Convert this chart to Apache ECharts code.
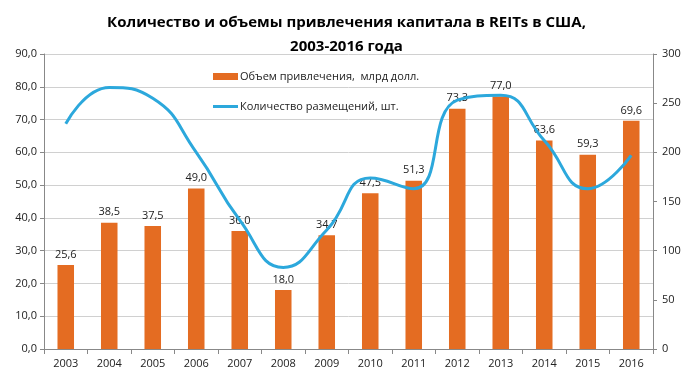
<!DOCTYPE html>
<html><head><meta charset="utf-8">
<script src="https://cdn.jsdelivr.net/npm/echarts@6/dist/echarts.min.js"></script>
<style>html,body{margin:0;padding:0;background:#fff}#c{width:693px;height:383px}</style>
</head><body><div id="c"></div>
<script>
const years = ['2003','2004','2005','2006','2007','2008','2009','2010','2011','2012','2013','2014','2015','2016'];
const volume = [25.6, 38.5, 37.5, 49.0, 36.0, 18.0, 34.7, 47.5, 51.3, 73.3, 77.0, 63.6, 59.3, 69.6];
const placements = [229, 266, 255, 200, 131, 83, 121, 174, 163, 253, 258, 212, 163, 197];
const volumeName = 'Объем привлечения,  млрд долл.';
const countName = 'Количество размещений, шт.';
const titleText = 'Количество и объемы привлечения капитала в REITs в США,\n2003-2016 года';

const font = '"Open Sans", sans-serif';
const fmt = v => v.toFixed(1).replace('.', ',');
const chart = echarts.init(document.getElementById('c'));
chart.setOption({
  animation: false,
  textStyle: {fontFamily: font},
  title: {
    text: titleText, left: 'center', top: 6,
    textStyle: {fontFamily: font, fontSize: 15, fontWeight: 'bold', color: '#000', lineHeight: 24}
  },
  legend: [
    {data: [volumeName], left: 208, top: 66, itemWidth: 25, itemHeight: 7, itemGap: 4, icon: 'rect',
     textStyle: {fontFamily: font, fontSize: 11, color: '#222', padding: [0,0,0,-3]}},
    {data: [countName], left: 208, top: 96, itemWidth: 25, itemHeight: 3, icon: 'rect',
     textStyle: {fontFamily: font, fontSize: 11, color: '#222', padding: [0,0,0,-3]}}
  ],
  grid: {left: 44, right: 40, top: 54, bottom: 34},
  xAxis: {
    type: 'category', data: years,
    axisLine: {lineStyle: {color: '#888'}},
    axisTick: {show: true, alignWithLabel: false, length: 5, lineStyle: {color: '#888'}},
    axisLabel: {fontSize: 11, color: '#222', margin: 9, fontFamily: font}
  },
  yAxis: [
    {type: 'value', min: 0, max: 90, interval: 10,
     axisLine: {show: true, lineStyle: {color: '#888'}},
     axisTick: {show: true, length: 4, lineStyle: {color: '#888'}},
     splitLine: {lineStyle: {color: '#d0d0d0'}},
     axisLabel: {formatter: v => fmt(v), fontSize: 11, color: '#222', margin: 7, fontFamily: font}},
    {type: 'value', min: 0, max: 300, interval: 50,
     axisLine: {show: true, lineStyle: {color: '#888'}},
     axisTick: {show: true, length: 4, lineStyle: {color: '#888'}},
     splitLine: {show: false},
     axisLabel: {fontSize: 11, color: '#222', margin: 9, fontFamily: font}}
  ],
  series: [
    {name: volumeName, type: 'bar', data: volume, barWidth: '38%', yAxisIndex: 0,
     itemStyle: {color: '#E46C22'},
     label: {show: true, position: 'top', distance: 5, formatter: p => fmt(p.value),
             fontSize: 11, color: '#222', fontFamily: font}},
    {name: countName, type: 'line', data: placements, yAxisIndex: 1, smooth: 0.5,
     symbol: 'none', lineStyle: {color: '#2CA8DC', width: 3}, itemStyle: {color: '#2CA8DC'}, z: 5}
  ]
});
</script></body></html>
